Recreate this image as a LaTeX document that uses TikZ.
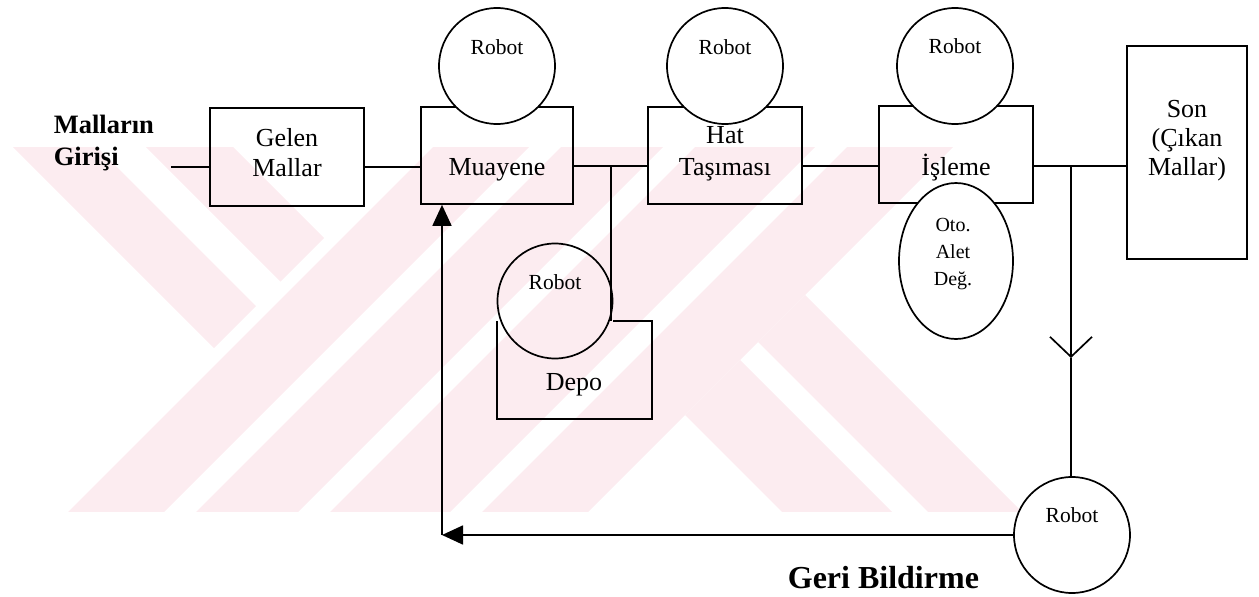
\documentclass[tikz,border=0pt]{standalone}
\usepackage{fontspec}
\setmainfont{Liberation Serif}
\usetikzlibrary{arrows.meta,shapes.geometric,calc}
\definecolor{wmpink}{RGB}{252,236,240}
\newcommand\wmpiece[4]{\fill[wmpink] ({((#3)-(#1))/2},{((#3)+(#1))/2}) -- ({((#3)-(#2))/2},{((#3)+(#2))/2}) -- ({((#4)-(#2))/2},{((#4)+(#2))/2}) -- ({((#4)-(#1))/2},{((#4)+(#1))/2}) -- cycle;}
\tikzset{
  box/.style={draw, rectangle, inner sep=0pt},
  robot/.style={draw, circle, fill=white, minimum size=116pt, inner sep=0pt},
  btxt/.style={font=\fontsize{26}{30}\selectfont, inner sep=0pt, anchor=base},
  rlab/.style={font=\fontsize{21.5}{25}\selectfont, inner sep=0pt, anchor=base},
  otxt/.style={font=\fontsize{20}{27}\selectfont, inner sep=0pt, anchor=base},
  hbold/.style={font=\bfseries\fontsize{26.5}{30}\selectfont, inner sep=0pt, anchor=base west},
  gbold/.style={font=\bfseries\fontsize{32}{36}\selectfont, inner sep=0pt, anchor=base west},
  tri/.style={-{Triangle[length=21pt,width=19pt]}},
}
\begin{document}
\begin{tikzpicture}[x=1pt,y=-1pt,line width=1.7pt]
\useasboundingbox (0,0) rectangle (1259,597);
% watermark
\begin{scope}
  \clip (0,147) rectangle (1259,511);
  \wmpiece{50}{134}{-1500}{562}
  \wmpiece{-86}{1}{-1500}{562}
  \wmpiece{-2000}{2000}{580}{676}
  \wmpiece{-2000}{2000}{708}{810}
  \wmpiece{-2000}{2000}{842}{962}
  \wmpiece{-2000}{2000}{994}{1100}
  \wmpiece{-380}{-270}{1100}{3000}
  \wmpiece{-510}{-416}{1100}{3000}
\end{scope}
% boxes
\node[box, minimum width=154pt, minimum height=98pt] (ge) at (287,157) {};
\node[box, minimum width=152pt, minimum height=97pt] (mu) at (497,155.5) {};
\node[box, minimum width=154pt, minimum height=97pt] (ha) at (725,155.5) {};
\node[box, minimum width=154pt, minimum height=97pt] (is) at (956,154.5) {};
\node[box, minimum width=120pt, minimum height=213pt] (so) at (1187,152.5) {};
\node[rectangle, inner sep=0pt, minimum width=153pt, minimum height=96pt] (dp) at (574.5,370) {};
% robots
\node[robot] (r1) at (497,66) {};
\node[robot] (r2) at (725,66) {};
\node[robot] (r3) at (955,66) {};
\node[draw, circle, minimum size=115pt, inner sep=0pt] (r4) at (555,301) {};
\node[robot] (rb) at (1072,535) {};
\node[draw, ellipse, fill=white, minimum width=114pt, minimum height=156pt, inner sep=0pt] (ot) at (956,261) {};
% depo outline (top edge hidden by robot)
\draw (r4.east |- dp.north) -- (dp.north east) -- (dp.south east) -- (dp.south west) -- (dp.north west);
% connectors
\coordinate (in) at (171,167);
\coordinate (row) at (0,166);
\coordinate (j1) at (611,166);
\coordinate (j2) at (1071,166);
\coordinate (mid) at (1071,358);
\coordinate (c1) at (442,535);
\draw (in) -- (in -| ge.west);
\draw (ge.east |- in) -- (mu.west |- in);
\draw (mu.east |- row) -- (ha.west |- row);
\draw (j1) -- (j1 |- dp.north);
\draw (ha.east |- row) -- (is.west |- row);
\draw (is.east |- row) -- (so.west |- row);
\draw[-{Straight Barb[length=20pt,width=42pt]}] (j2) -- (mid);
\draw (mid) -- (j2 |- rb.north);
\draw[tri] (rb.west) -- (c1);
\draw[tri] (c1) -- (c1 |- mu.south);
% texts
\node[hbold] (ml1) at (53,133) {Malların};
\node[hbold] (ml2) at (53,165) {Girişi};
\node[btxt] (ge1) at (287,146) {Gelen};
\node[btxt] (ge2) at (287,176) {Mallar};
\node[btxt] (mu1) at (497,175) {Muayene};
\node[btxt] (ha1) at (725,143) {Hat};
\node[btxt] (ha2) at (725,175) {Taşıması};
\node[btxt] (is1) at (956,175) {İşleme};
\node[btxt] (so1) at (1187,117) {Son};
\node[btxt] (so2) at (1187,146) {(Çıkan};
\node[btxt] (so3) at (1187,175) {Mallar)};
\node[btxt] (dp1) at (574,390) {Depo};
\node[rlab] (r1t) at (497,54) {Robot};
\node[rlab] (r2t) at (725,54) {Robot};
\node[rlab] (r3t) at (955,53) {Robot};
\node[rlab] (r4t) at (555,289) {Robot};
\node[rlab] (rbt) at (1072,522) {Robot};
\node[otxt] (ot1) at (953,231) {Oto.};
\node[otxt] (ot2) at (953,258) {Alet};
\node[otxt] (ot3) at (953,285) {Değ.};
\node[gbold] (gb) at (787,588) {Geri Bildirme};
\end{tikzpicture}
\end{document}
